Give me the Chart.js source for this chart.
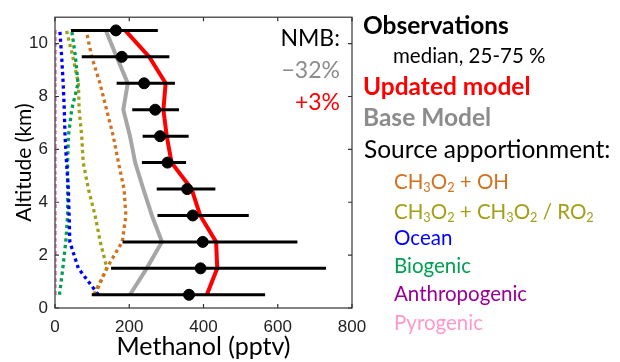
<!DOCTYPE html>
<html>
<head>
<meta charset="utf-8">
<script src="https://cdn.jsdelivr.net/npm/chart.js@4.4.1/dist/chart.umd.min.js"></script>
<style>
  body { margin: 0; background: #fff; }
  #wrap { position: relative; width: 620px; height: 362px; }
  canvas { position: absolute; left: 0; top: 0; }
  .lbl { position: absolute; font-family: Lato, sans-serif; white-space: nowrap; line-height: 1; }
  .big { font-size: 24.5px; }
  .small { font-size: 20.5px; }
  .nmb { font-size: 23px; text-align: right; width: 80px; }
  sub { font-size: 0.62em; vertical-align: -0.25em; }
</style>
</head>
<body>
<div id="wrap">
  <canvas id="chart" width="620" height="362"></canvas>
  <div class="lbl nmb" style="left:260px; top:26px; color:#000">NMB:</div>
  <div class="lbl nmb" style="left:260px; top:58px; color:#8c8c8c">&minus;32%</div>
  <div class="lbl nmb" style="left:260px; top:90px; color:#ff0000">+3%</div>

  <div class="lbl big" style="left:363px; top:13px; font-weight:bold; color:#000">Observations</div>
  <div class="lbl" style="left:393px; top:45px; font-size:20.5px; color:#000">median, 25-75 %</div>
  <div class="lbl big" style="left:363px; top:74px; font-weight:bold; color:#ff0000">Updated model</div>
  <div class="lbl big" style="left:363px; top:105px; font-weight:bold; color:#8c8c8c">Base Model</div>
  <div class="lbl big" style="left:364px; top:137px; color:#000">Source apportionment:</div>
  <div class="lbl small" style="left:394px; top:171px; color:#d2711e">CH<sub>3</sub>O<sub>2</sub> + OH</div>
  <div class="lbl small" style="left:394px; top:201px; color:#a3a018">CH<sub>3</sub>O<sub>2</sub> + CH<sub>3</sub>O<sub>2</sub> / RO<sub>2</sub></div>
  <div class="lbl small" style="left:394px; top:227px; color:#0000ff">Ocean</div>
  <div class="lbl small" style="left:394px; top:255px; color:#00a050">Biogenic</div>
  <div class="lbl small" style="left:394px; top:283px; color:#990099">Anthropogenic</div>
  <div class="lbl small" style="left:394px; top:312px; color:#ff99cc">Pyrogenic</div>
</div>
<script>
// altitude levels (km), bottom to top
const altitude = [0.5, 1.5, 2.5, 3.5, 4.5, 5.5, 6.5, 7.5, 8.5, 9.5, 10.5];

// observations: median and 25-75 percentiles (pptv)
const obsMedian = [361, 392, 398, 371, 356, 303, 283, 270, 240, 180, 164];
const obsP25 = [99, 151, 182, 276, 274, 234, 236, 208, 166, 72, 43];
const obsP75 = [566, 730, 653, 522, 432, 353, 360, 334, 323, 308, 277];

// model profiles
const updatedModel = [409, 437, 434, 391, 368, 314, 301, 292, 298, 254, 189];
const baseModel = [202, 247, 288, 261, 238, 216, 202, 184, 196, 166, 137];

// source apportionment
const srcCh3o2Oh = [108, 139, 181, 191, 186, 171, 157, 139, 121, 99, 84];
const srcCh3o2Ro2 = [104, 140, 122, 108, 90, 76, 72, 65, 63, 48, 31];
const srcOcean = [117, 63, 40, 38, 36, 31, 27, 25, 22, 18, 13];
const srcBiogenic = [12, 21, 29, 34, 34, 34, 36, 45, 62, 55, 45];
const srcAnthro = [1, 1, 1, 1, 1, 1, 1, 1, 1, 1, 1];
const srcPyro = [1, 1, 1, 1, 1, 1, 1, 1, 1, 1, 1];

const xTicks = [0, 200, 400, 600, 800];
const yTicks = [0, 2, 4, 6, 8, 10];

function profile(values) {
  return values.map((v, i) => ({ x: v, y: altitude[i] }));
}

function dotted(label, values, color, order) {
  return {
    label: label,
    data: profile(values),
    showLine: true,
    borderColor: color,
    borderWidth: 3.3,
    borderDash: [3.3, 3.4],
    borderCapStyle: 'butt',
    pointRadius: 0,
    order: order,
  };
}

const datasets = [
  dotted('Pyrogenic', srcPyro, '#ff99cc', 5),
  dotted('Anthropogenic', srcAnthro, '#990099', 6),
  dotted('Biogenic', srcBiogenic, '#00a050', 7),
  dotted('Ocean', srcOcean, '#0000ff', 6),
  dotted('CH3O2 + CH3O2 / RO2', srcCh3o2Ro2, '#a3a018', 7),
  dotted('CH3O2 + OH', srcCh3o2Oh, '#d2711e', 6),
  {
    label: 'Base Model',
    data: profile(baseModel),
    showLine: true,
    borderColor: '#a6a6a6',
    borderWidth: 4,
    pointRadius: 0,
    order: 3,
  },
  {
    label: 'Updated model',
    data: profile(updatedModel),
    showLine: true,
    borderColor: '#ff0000',
    borderWidth: 4,
    pointRadius: 0,
    order: 2,
  },
];

// one horizontal bar per level for the 25-75 % range
altitude.forEach((a, i) => {
  datasets.push({
    label: 'range ' + a,
    data: [{ x: obsP25[i], y: a }, { x: obsP75[i], y: a }],
    showLine: true,
    borderColor: '#000',
    borderWidth: 3,
    pointRadius: 0,
    order: 1,
  });
});

datasets.push({
  label: 'Observations',
  data: profile(obsMedian),
  showLine: false,
  backgroundColor: '#000',
  borderColor: '#000',
  pointRadius: 5.5,
  order: 0,
});

// box with inward ticks on all four sides, like the original figure
const frame = {
  id: 'frame',
  afterDatasetsDraw(chart) {
    const { ctx, chartArea: a, scales } = chart;
    ctx.save();
    ctx.strokeStyle = '#333';
    ctx.lineWidth = 1.2;
    ctx.strokeRect(a.left, a.top, a.right - a.left, a.bottom - a.top);
    const len = 4;
    ctx.beginPath();
    xTicks.forEach(v => {
      const px = scales.x.getPixelForValue(v);
      ctx.moveTo(px, a.bottom); ctx.lineTo(px, a.bottom - len);
      ctx.moveTo(px, a.top); ctx.lineTo(px, a.top + len);
    });
    yTicks.forEach(v => {
      const py = scales.y.getPixelForValue(v);
      ctx.moveTo(a.left, py); ctx.lineTo(a.left + len, py);
      ctx.moveTo(a.right, py); ctx.lineTo(a.right - len, py);
    });
    ctx.stroke();
    ctx.restore();
  }
};

new Chart(document.getElementById('chart'), {
  type: 'scatter',
  data: { datasets: datasets },
  options: {
    responsive: false,
    animation: false,
    layout: { padding: { left: 0, top: 15, right: 268, bottom: 0 } },
    plugins: { legend: { display: false }, tooltip: { enabled: false } },
    scales: {
      x: {
        type: 'linear',
        min: 0,
        max: 800,
        afterFit(s) { s.height = 54; },
        afterBuildTicks(s) { s.ticks = xTicks.map(v => ({ value: v })); },
        grid: { display: false, drawTicks: false },
        border: { display: false },
        ticks: { font: { family: 'Liberation Sans', size: 17 }, color: '#222', padding: 9 },
        title: {
          display: true,
          text: 'Methanol (pptv)',
          font: { family: 'Lato', size: 25 },
          color: '#000',
          padding: { top: 0, bottom: 0 },
        },
      },
      y: {
        type: 'linear',
        min: 0,
        max: 11,
        afterFit(s) { s.width = 55; },
        afterBuildTicks(s) { s.ticks = yTicks.map(v => ({ value: v })); },
        grid: { display: false, drawTicks: false },
        border: { display: false },
        ticks: { font: { family: 'Liberation Sans', size: 17 }, color: '#222', padding: 7 },
        title: {
          display: true,
          text: 'Altitude (km)',
          font: { family: 'Lato', size: 21 },
          color: '#000',
          padding: { top: 12, bottom: 0 },
        },
      },
    },
  },
  plugins: [frame],
});
</script>
</body>
</html>
